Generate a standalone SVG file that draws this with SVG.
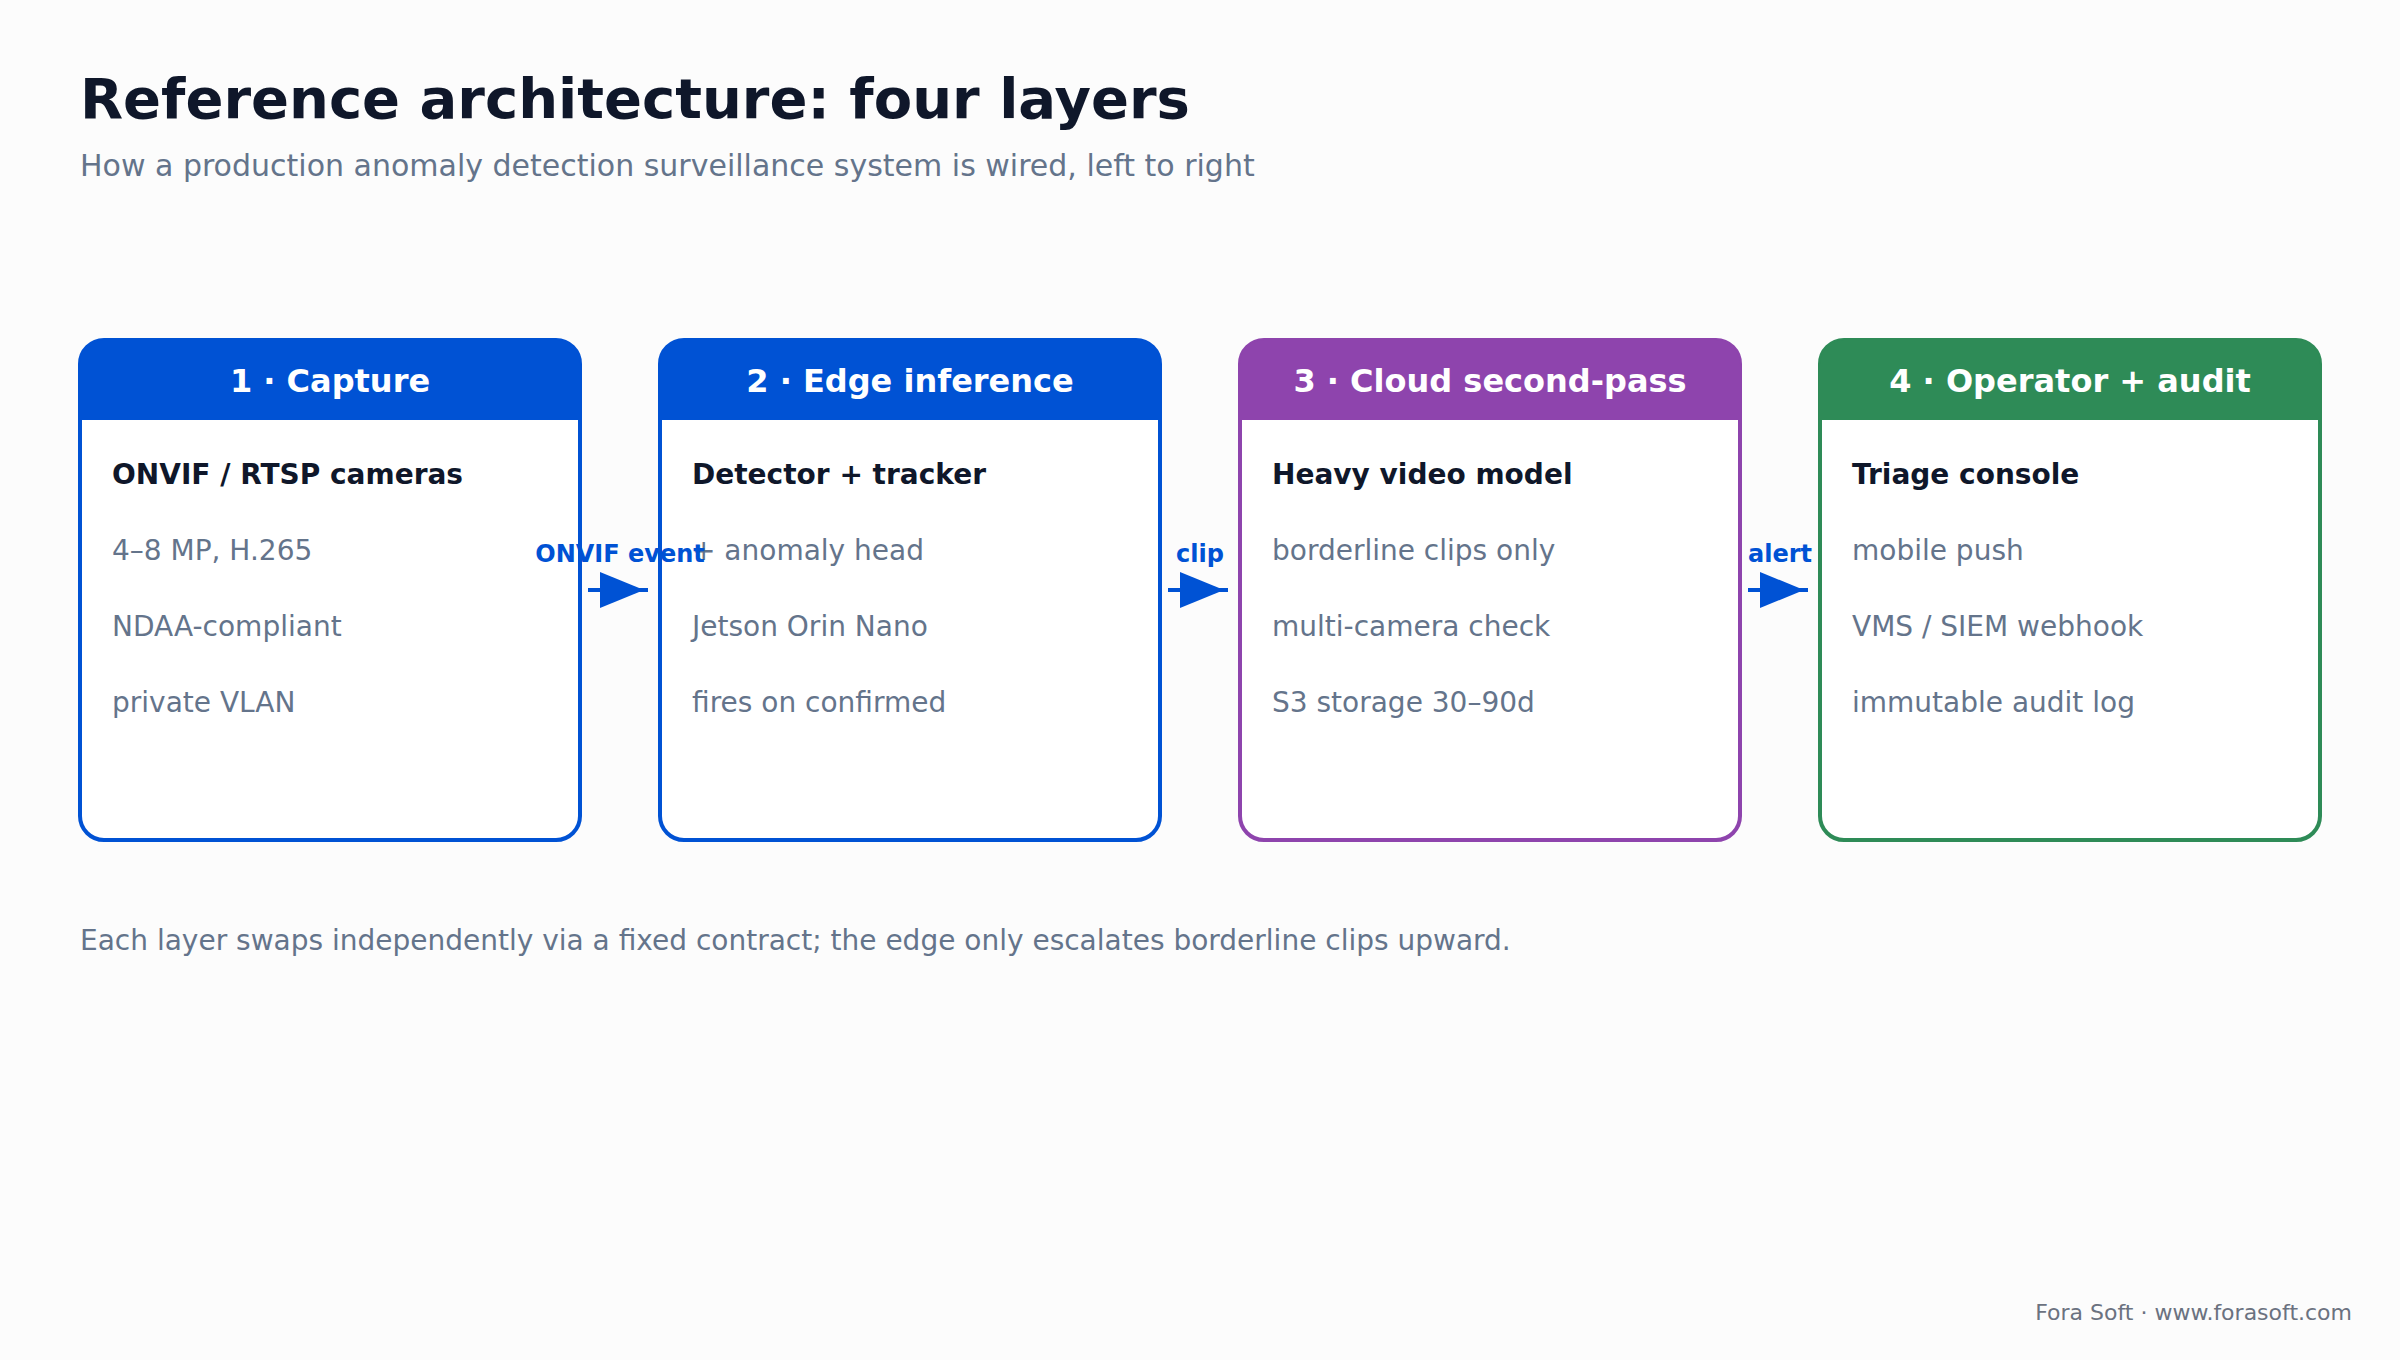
<svg xmlns="http://www.w3.org/2000/svg" width="2400" height="1360" viewBox="0 0 2400 1360">
<style>
text{font-family:"DejaVu Sans","Noto Sans",sans-serif}
.title{font-size:56px;font-weight:bold;fill:#0F172A}
.sub{font-size:30px;fill:#64748B}
.hdr{font-size:32px;font-weight:bold;fill:#FFFFFF;text-anchor:middle}
.lead{font-size:28px;font-weight:bold;fill:#0F172A}
.item{font-size:28px;fill:#64748B}
.lbl{font-size:24px;font-weight:bold;fill:#0052D4;text-anchor:middle}
.note{font-size:28px;fill:#64748B}
.foot{font-size:22px;fill:#6B7280;text-anchor:end}
.box{fill:#FFFFFF;stroke-width:4}
.conn{stroke:#0052D4;stroke-width:4;fill:none}
</style>
<defs>
<marker id="arr" markerUnits="userSpaceOnUse" markerWidth="48" markerHeight="36" viewBox="0 0 48 36" refX="48" refY="18" orient="auto">
<path d="M0,0 L44,18 L0,36 Z" fill="#0052D4"/>
</marker>
</defs>
<rect width="2400" height="1360" fill="#FCFCFC"/>
<text class="title" x="80" y="118">Reference architecture: four layers</text>
<text class="sub" x="80" y="176">How a production anomaly detection surveillance system is wired, left to right</text>

<g id="node-capture">
<rect class="box" x="80" y="340" width="500" height="500" rx="24" stroke="#0052D4"/>
<path d="M80,420 V364 A24,24 0 0 1 104,340 H556 A24,24 0 0 1 580,364 V420 Z" fill="#0052D4"/>
<text class="hdr" x="330" y="392">1 · Capture</text>
<text class="lead" x="112" y="484">ONVIF / RTSP cameras</text>
<text class="item" x="112" y="560">4–8 MP, H.265</text>
<text class="item" x="112" y="636">NDAA-compliant</text>
<text class="item" x="112" y="712">private VLAN</text>
</g>

<g id="node-edge">
<rect class="box" x="660" y="340" width="500" height="500" rx="24" stroke="#0052D4"/>
<path d="M660,420 V364 A24,24 0 0 1 684,340 H1136 A24,24 0 0 1 1160,364 V420 Z" fill="#0052D4"/>
<text class="hdr" x="910" y="392">2 · Edge inference</text>
<text class="lead" x="692" y="484">Detector + tracker</text>
<text class="item" x="692" y="560">+ anomaly head</text>
<text class="item" x="692" y="636">Jetson Orin Nano</text>
<text class="item" x="692" y="712">fires on confirmed</text>
</g>

<g id="node-cloud">
<rect class="box" x="1240" y="340" width="500" height="500" rx="24" stroke="#8E44AD"/>
<path d="M1240,420 V364 A24,24 0 0 1 1264,340 H1716 A24,24 0 0 1 1740,364 V420 Z" fill="#8E44AD"/>
<text class="hdr" x="1490" y="392">3 · Cloud second-pass</text>
<text class="lead" x="1272" y="484">Heavy video model</text>
<text class="item" x="1272" y="560">borderline clips only</text>
<text class="item" x="1272" y="636">multi-camera check</text>
<text class="item" x="1272" y="712">S3 storage 30–90d</text>
</g>

<g id="node-operator">
<rect class="box" x="1820" y="340" width="500" height="500" rx="24" stroke="#2E8B57"/>
<path d="M1820,420 V364 A24,24 0 0 1 1844,340 H2296 A24,24 0 0 1 2320,364 V420 Z" fill="#2E8B57"/>
<text class="hdr" x="2070" y="392">4 · Operator + audit</text>
<text class="lead" x="1852" y="484">Triage console</text>
<text class="item" x="1852" y="560">mobile push</text>
<text class="item" x="1852" y="636">VMS / SIEM webhook</text>
<text class="item" x="1852" y="712">immutable audit log</text>
</g>

<g id="connectors">
<line class="conn" x1="588" y1="590" x2="648" y2="590" marker-end="url(#arr)"/>
<text class="lbl" x="620" y="562">ONVIF event</text>
<line class="conn" x1="1168" y1="590" x2="1228" y2="590" marker-end="url(#arr)"/>
<text class="lbl" x="1200" y="562">clip</text>
<line class="conn" x1="1748" y1="590" x2="1808" y2="590" marker-end="url(#arr)"/>
<text class="lbl" x="1780" y="562">alert</text>
</g>

<text class="note" x="80" y="950">Each layer swaps independently via a fixed contract; the edge only escalates borderline clips upward.</text>
<text class="foot" x="2352" y="1320">Fora Soft · www.forasoft.com</text>
</svg>
